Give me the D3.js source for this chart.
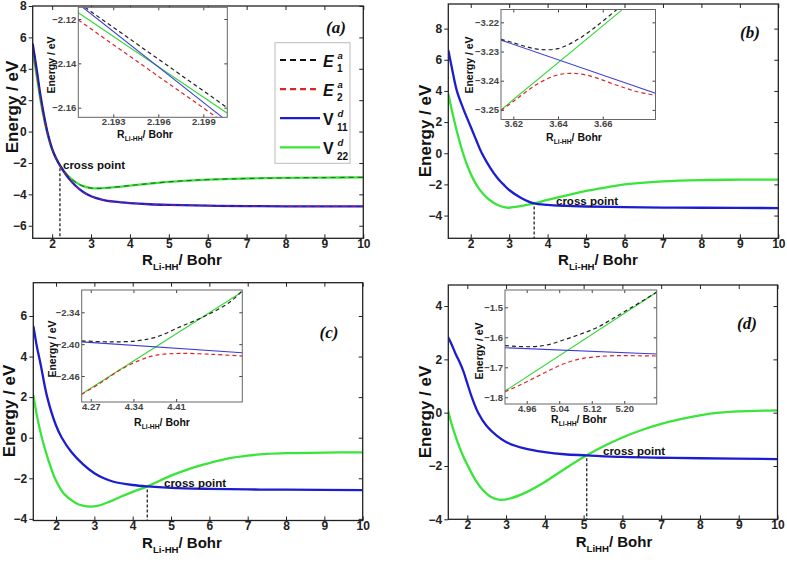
<!DOCTYPE html>
<html lang="en">
<head>
<meta charset="UTF-8">
<title>Li-HH diabatic and adiabatic potential curves</title>
<script src="https://d3js.org/d3.v7.min.js"></script>
<style>
  body { margin: 0; background: #fff; }
  svg { display: block; font-family: "Liberation Sans", Arial, sans-serif; }
</style>
</head>
<body>
<svg width="787" height="564"></svg>
<script>
// ---- data: [R / Bohr, energy / eV] ----
var xTicksMain = [2, 3, 4, 5, 6, 7, 8, 9, 10];

// panel (a)
var v11A = [[1.5,5.6],[1.6,4.0],[1.7,2.3],[1.8,0.9],[1.9,-0.25],[2.0,-1.1],[2.1,-1.7],[2.2,-2.15],[2.4,-2.9],[2.6,-3.45],[2.8,-3.85],[3.0,-4.12],[3.3,-4.35],[3.6,-4.47],[4.0,-4.56],[4.5,-4.63],[5.0,-4.67],[6.0,-4.72],[7.0,-4.75],[8.0,-4.76],[10.0,-4.77]];
var v22A = [[1.5,5.1],[1.6,3.6],[1.7,2.0],[1.8,0.7],[1.9,-0.35],[2.0,-1.15],[2.1,-1.7],[2.2,-2.15],[2.4,-2.8],[2.6,-3.22],[2.8,-3.48],[3.0,-3.6],[3.2,-3.62],[3.5,-3.57],[4.0,-3.44],[4.5,-3.31],[5.0,-3.2],[5.5,-3.12],[6.0,-3.06],[7.0,-2.99],[8.0,-2.95],[9.0,-2.93],[10.0,-2.92]];
var e1A = [[1.5,5.6],[1.6,4.0],[1.7,2.3],[1.8,0.9],[1.9,-0.25],[2.0,-1.1],[2.1,-1.7],[2.2,-2.13],[2.4,-2.8],[2.6,-3.22],[2.8,-3.48],[3.0,-3.6],[3.2,-3.62],[3.5,-3.57],[4.0,-3.44],[4.5,-3.31],[5.0,-3.2],[5.5,-3.12],[6.0,-3.06],[7.0,-2.99],[8.0,-2.95],[9.0,-2.93],[10.0,-2.92]];
var e2A = [[1.5,5.1],[1.6,3.6],[1.7,2.0],[1.8,0.7],[1.9,-0.35],[2.0,-1.15],[2.1,-1.7],[2.2,-2.16],[2.4,-2.9],[2.6,-3.45],[2.8,-3.85],[3.0,-4.12],[3.3,-4.35],[3.6,-4.47],[4.0,-4.56],[4.5,-4.63],[5.0,-4.67],[6.0,-4.72],[7.0,-4.75],[8.0,-4.76],[10.0,-4.77]];
var yTicksA = [-6, -4, -2, 0, 2, 4, 6, 8];

// panel (b)
var v11B = [[1.42,6.6],[1.5,5.6],[1.64,4.0],[1.8,2.9],[2.0,1.7],[2.15,0.8],[2.29,0.0],[2.5,-0.9],[2.7,-1.6],[2.85,-2.0],[3.0,-2.36],[3.3,-2.85],[3.65,-3.22],[4.0,-3.32],[4.5,-3.38],[5.0,-3.42],[6.0,-3.46],[7.0,-3.49],[8.0,-3.5],[10.0,-3.52]];
var v22B = [[1.42,3.8],[1.5,2.85],[1.6,1.8],[1.7,0.85],[1.8,0.0],[1.9,-0.72],[2.0,-1.32],[2.1,-1.82],[2.2,-2.22],[2.35,-2.68],[2.5,-3.02],[2.7,-3.32],[2.9,-3.48],[3.0,-3.5],[3.2,-3.43],[3.4,-3.34],[3.65,-3.22],[4.0,-3.0],[4.5,-2.7],[5.0,-2.42],[5.5,-2.2],[6.0,-2.0],[7.0,-1.8],[8.0,-1.72],[9.0,-1.7],[10.0,-1.69]];
var yTicksB = [-4, -2, 0, 2, 4, 6, 8];

// panel (c)
var v11C = [[1.41,5.5],[1.5,4.5],[1.6,3.6],[1.77,2.0],[2.0,0.6],[2.15,0.0],[2.4,-0.7],[2.7,-1.3],[3.0,-1.75],[3.25,-2.0],[3.5,-2.17],[4.0,-2.33],[4.38,-2.4],[5.0,-2.47],[6.0,-2.52],[7.0,-2.55],[8.0,-2.56],[10.0,-2.58]];
var v22C = [[1.41,2.1],[1.5,1.1],[1.63,0.0],[1.8,-1.1],[1.97,-2.0],[2.2,-2.75],[2.5,-3.2],[2.7,-3.35],[2.9,-3.4],[3.1,-3.35],[3.4,-3.15],[3.7,-2.9],[4.0,-2.67],[4.38,-2.4],[4.7,-2.12],[5.0,-1.87],[5.5,-1.52],[6.0,-1.25],[6.5,-1.02],[7.0,-0.88],[7.5,-0.8],[8.0,-0.76],[9.0,-0.73],[10.0,-0.72]];
var yTicksC = [-4, -2, 0, 2, 4, 6];

// panel (d)
var v11D = [[1.5,2.85],[1.6,2.55],[1.7,2.2],[1.8,1.9],[1.9,1.55],[2.0,1.1],[2.1,0.65],[2.28,0.0],[2.5,-0.5],[2.75,-0.85],[3.0,-1.1],[3.5,-1.35],[4.0,-1.48],[4.5,-1.56],[5.08,-1.6],[6.0,-1.66],[7.0,-1.69],[8.0,-1.71],[10.0,-1.74]];
var v22D = [[1.5,0.1],[1.6,-0.45],[1.7,-0.9],[1.8,-1.3],[1.9,-1.65],[2.0,-1.95],[2.2,-2.5],[2.4,-2.9],[2.6,-3.15],[2.85,-3.27],[3.1,-3.22],[3.5,-3.0],[4.0,-2.6],[4.5,-2.12],[5.08,-1.6],[5.5,-1.27],[6.0,-0.93],[6.5,-0.65],[7.0,-0.42],[7.5,-0.24],[8.0,-0.1],[8.5,0.0],[9.0,0.05],[10.0,0.09]];
var yTicksD = [-4, -2, 0, 2, 4];

// insets
var inE1A = [[2.19111,-2.11472],[2.20056,-2.15983]];
var inE2A = [[2.19067,-2.12045],[2.19989,-2.16434]];
var inV11A = [[2.19096,-2.11472],[2.20027,-2.16434]];
var inV22A = [[2.19067,-2.11716],[2.2006,-2.16253]];
var inXTicksA = [2.193, 2.196, 2.199];
var inYTicksA = [-2.16, -2.14, -2.12];

var inE1B = [[3.6145,-3.2258],[3.62,-3.227],[3.625,-3.2282],[3.63,-3.2291],[3.635,-3.2294],[3.64,-3.229],[3.645,-3.2275],[3.65,-3.2253],[3.655,-3.2226],[3.66,-3.2196],[3.6663,-3.2156]];
var inE2B = [[3.6145,-3.2502],[3.62,-3.2471],[3.625,-3.2442],[3.63,-3.2415],[3.635,-3.2394],[3.64,-3.238],[3.645,-3.2375],[3.65,-3.2377],[3.655,-3.2385],[3.66,-3.2398],[3.665,-3.2412],[3.67,-3.2425],[3.675,-3.2437],[3.6836,-3.245]];
var inV11B = [[3.6145,-3.2261],[3.6836,-3.2443]];
var inV22B = [[3.6145,-3.25],[3.6685,-3.2158]];
var inXTicksB = [3.62, 3.64, 3.66];
var inYTicksB = [-3.25, -3.24, -3.23, -3.22];

var inE1C = [[4.2552,-2.3938],[4.3016,-2.3957],[4.3454,-2.3938],[4.3782,-2.3863],[4.4165,-2.3675],[4.4601,-2.3456],[4.4984,-2.3206],[4.5185,-2.299]];
var inE2C = [[4.2552,-2.4945],[4.2852,-2.4737],[4.318,-2.4488],[4.3508,-2.43],[4.3777,-2.4206],[4.4165,-2.4175],[4.4709,-2.4193],[4.5185,-2.4225]];
var inV11C = [[4.2552,-2.3957],[4.5185,-2.4163]];
var inV22C = [[4.2552,-2.4938],[4.5185,-2.3013]];
var inXTicksC = [4.27, 4.34, 4.41];
var inYTicksC = [-2.46, -2.40, -2.34];

var inE1D = [[4.9066,-1.628],[4.9682,-1.6313],[5.0092,-1.6257],[5.0502,-1.609],[5.0911,-1.59],[5.1323,-1.568],[5.1731,-1.5367],[5.2143,-1.5033],[5.2554,-1.47],[5.2798,-1.449]];
var inE2D = [[4.9066,-1.781],[4.9435,-1.759],[4.9847,-1.7313],[5.0174,-1.709],[5.0502,-1.689],[5.0911,-1.6723],[5.1323,-1.6647],[5.1731,-1.6613],[5.2143,-1.6613],[5.2798,-1.6623]];
var inV11D = [[4.9066,-1.6347],[5.2798,-1.6557]];
var inV22D = [[4.9066,-1.779],[5.2798,-1.45]];
var inXTicksD = [4.96, 5.04, 5.12, 5.20];
var inYTicksD = [-1.8, -1.7, -1.6, -1.5];

// ---- drawing ----
var svg = d3.select("svg");
var BLUE = "#1c1cd0", GREEN = "#3ae43a", IBLUE = "#3c3cd6", IGREEN = "#33d833";
var clipId = 0;

function curves(g, x, y, list) {
    var id = "clip" + (clipId++);
    g.append("clipPath").attr("id", id).append("rect")
        .attr("x", x.range()[0]).attr("y", y.range()[1])
        .attr("width", x.range()[1] - x.range()[0]).attr("height", y.range()[0] - y.range()[1]);
    var line = d3.line().x(function(d) { return x(d[0]); }).y(function(d) { return y(d[1]); })
        .curve(d3.curveCatmullRom.alpha(0.5));
    var cg = g.append("g").attr("clip-path", "url(#" + id + ")");
    list.forEach(function(s) {
        cg.append("path").datum(s.data).attr("d", line)
            .attr("fill", "none").attr("stroke", s.color).attr("stroke-width", s.width)
            .attr("stroke-dasharray", s.dash || null).attr("opacity", s.opacity || 1);
    });
}

function axes(g, x, y, xt, yt, o) {
    var x0 = x.range()[0], x1 = x.range()[1], y0 = y.range()[1], y1 = y.range()[0];
    var tin = o.inset ? -3 : -4;
    var b = g.append("g").attr("transform", "translate(0," + y1 + ")")
        .call(d3.axisBottom(x).tickValues(xt).tickSizeInner(tin).tickSizeOuter(0)
        .tickPadding(o.padB).tickFormat(o.fx));
    var l = g.append("g").attr("transform", "translate(" + x0 + ",0)")
        .call(d3.axisLeft(y).tickValues(yt).tickSizeInner(o.inset ? -3 : 4).tickSizeOuter(0)
        .tickPadding(o.padL).tickFormat(o.fy));
    var t = g.append("g").attr("transform", "translate(0," + y0 + ")")
        .call(d3.axisTop(x).tickValues(xt).tickSizeInner(tin).tickSizeOuter(0).tickFormat(""));
    var r = g.append("g").attr("transform", "translate(" + x1 + ",0)")
        .call(d3.axisRight(y).tickValues(yt).tickSizeInner(tin).tickSizeOuter(0).tickFormat(""));
    [b, l, t, r].forEach(function(a) {
        a.select(".domain").remove();
        a.attr("font-family", null).attr("font-size", o.fs).attr("font-weight", "bold")
            .attr("color", o.tickColor);
    });
    g.append("rect").attr("x", x0).attr("y", y0).attr("width", x1 - x0).attr("height", y1 - y0)
        .attr("fill", "none").attr("stroke", o.frame).attr("stroke-width", o.inset ? 1 : 1.3);
}

function xTitle(cx, by, fs, sub) {
    var t = svg.append("text").attr("x", cx).attr("y", by).attr("text-anchor", "middle")
        .attr("font-weight", "bold").attr("font-size", fs).attr("fill", "#111");
    t.append("tspan").text("R");
    t.append("tspan").attr("font-size", fs * 0.64).attr("dy", fs * 0.3).text(sub);
    t.append("tspan").attr("dy", -fs * 0.3).text("/ Bohr");
}

function yTitle(bx, cy, fs) {
    svg.append("text").attr("transform", "translate(" + bx + "," + cy + ") rotate(-90)")
        .attr("text-anchor", "middle").attr("font-weight", "bold").attr("font-size", fs)
        .attr("fill", "#111").text("Energy / eV");
}

function panel(p) {
    var g = svg.append("g");
    var x = d3.scaleLinear().domain(p.xd).range([p.box[0], p.box[1]]);
    var y = d3.scaleLinear().domain(p.yd).range([p.box[3], p.box[2]]);
    var list = [
        {data: p.v22, color: GREEN, width: 2.3},
        {data: p.v11, color: BLUE, width: 2.3}
    ];
    if (p.e1) {
        list.push({data: p.e1, color: "#222", width: 1.2, dash: "5,4", opacity: 0.6});
        list.push({data: p.e2, color: "#d22", width: 1.2, dash: "5,4", opacity: 0.6});
    }
    curves(g, x, y, list);
    // cross point marker
    g.append("line").attr("x1", x(p.cross[0])).attr("x2", x(p.cross[0]))
        .attr("y1", y(p.cross[1]) + 3).attr("y2", p.box[3])
        .attr("stroke", "#222").attr("stroke-width", 1.3).attr("stroke-dasharray", "3,2");
    g.append("text").attr("x", p.crossText[0]).attr("y", p.crossText[1])
        .attr("font-size", 11.5).attr("font-weight", "bold").attr("fill", "#111").text("cross point");
    axes(g, x, y, xTicksMain, p.yt, {fs: 12, padB: 1, padL: 2, frame: "#222", tickColor: "#222",
        fx: d3.format("d"), fy: d3.format("d")});
    yTitle(p.yTitle[0], p.yTitle[1], 17);
    xTitle(p.xTitle[0], p.xTitle[1], 15, p.xsub);
    svg.append("text").attr("x", p.tag[0]).attr("y", p.tag[1]).attr("text-anchor", "middle")
        .attr("font-family", "Liberation Serif, Times New Roman, serif").attr("font-weight", "bold")
        .attr("font-style", "italic").attr("font-size", 17).attr("fill", "#111").text(p.tagText);
}

function inset(p) {
    var g = svg.append("g");
    var x = d3.scaleLinear().domain(p.xd).range([p.box[0], p.box[1]]);
    var y = d3.scaleLinear().domain(p.yd).range([p.box[3], p.box[2]]);
    g.append("rect").attr("x", p.box[0]).attr("y", p.box[2])
        .attr("width", p.box[1] - p.box[0]).attr("height", p.box[3] - p.box[2]).attr("fill", "#fff");
    curves(g, x, y, [
        {data: p.v22, color: IGREEN, width: 1.1},
        {data: p.v11, color: IBLUE, width: 1.1},
        {data: p.e1, color: "#222", width: 1.2, dash: "4,3"},
        {data: p.e2, color: "#e02424", width: 1.2, dash: "4,3"}
    ]);
    axes(g, x, y, p.xt, p.yt, {inset: true, fs: 9.5, padB: 1, padL: 2, frame: "#666", tickColor: "#444",
        fx: d3.format(p.fx), fy: d3.format(p.fy)});
    yTitle(p.yTitle[0], p.yTitle[1], 10.5);
    xTitle(p.xTitle[0], p.xTitle[1], 10.5, "Li-HH");
}

panel({box: [32.7, 363.3, 6, 238.3], xd: [1.5, 10], yd: [-6.8, 8], yt: yTicksA,
    v11: v11A, v22: v22A, e1: e1A, e2: e2A, cross: [2.2, -2.15], crossText: [63, 169],
    yTitle: [18, 107], xTitle: [182, 265], xsub: "Li-HH", tag: [336, 33], tagText: "(a)"});
panel({box: [448.3, 778.3, 4, 238.3], xd: [1.417, 10], yd: [-5.46, 9.58], yt: yTicksB,
    v11: v11B, v22: v22B, cross: [3.65, -3.22], crossText: [556, 205],
    yTitle: [431, 131], xTitle: [598, 265], xsub: "Li-HH", tag: [750, 38], tagText: "(b)"});
panel({box: [33.3, 362.7, 282.7, 520.5], xd: [1.407, 10], yd: [-4.08, 7.64], yt: yTicksC,
    v11: v11C, v22: v22C, cross: [4.38, -2.4], crossText: [164, 487],
    yTitle: [15, 411], xTitle: [182, 548], xsub: "Li-HH", tag: [329, 338], tagText: "(c)"});
panel({box: [448.3, 777.5, 285, 519.3], xd: [1.51, 10], yd: [-4, 4.79], yt: yTicksD,
    v11: v11D, v22: v22D, cross: [5.08, -1.6], crossText: [603, 455],
    yTitle: [431, 412], xTitle: [614, 547], xsub: "LiHH", tag: [747, 329], tagText: "(d)"});

inset({box: [78.3, 227.3, 7.3, 117.3], xd: [2.19067, 2.2006], yd: [-2.16433, -2.11472],
    xt: inXTicksA, yt: inYTicksA, fx: ".3f", fy: ".2f",
    e1: inE1A, e2: inE2A, v11: inV11A, v22: inV22A, yTitle: [55, 65], xTitle: [145, 138]});
inset({box: [501, 655.5, 9.5, 119.5], xd: [3.6145, 3.6836], yd: [-3.2533, -3.2156],
    xt: inXTicksB, yt: inYTicksB, fx: ".2f", fy: ".2f",
    e1: inE1B, e2: inE2B, v11: inV11B, v22: inV22B, yTitle: [473, 65], xTitle: [574, 141]});
inset({box: [81.7, 242.3, 290, 402], xd: [4.2552, 4.5185], yd: [-2.509, -2.298],
    xt: inXTicksC, yt: inYTicksC, fx: ".2f", fy: ".2f",
    e1: inE1C, e2: inE2C, v11: inV11C, v22: inV22C, yTitle: [56, 349], xTitle: [162, 426]});
inset({box: [505, 656.7, 290, 404], xd: [4.9066, 5.2798], yd: [-1.8223, -1.4423],
    xt: inXTicksD, yt: inYTicksD, fx: ".2f", fy: ".1f",
    e1: inE1D, e2: inE2D, v11: inV11D, v22: inV22D, yTitle: [483, 351], xTitle: [579, 423]});

// legend of panel (a)
var legendKeys = [
    {sym: "E", sup: "a", sub: "1", color: "#111", dash: "6,4", italic: true},
    {sym: "E", sup: "a", sub: "2", color: "#e02424", dash: "6,4", italic: true},
    {sym: "V", sup: "d", sub: "11", color: BLUE, dash: null, italic: false},
    {sym: "V", sup: "d", sub: "22", color: GREEN, dash: null, italic: false}
];
var lg = svg.append("g");
lg.append("rect").attr("x", 275).attr("y", 42.7).attr("width", 75).attr("height", 120.6)
    .attr("fill", "#fff").attr("stroke", "#bbb").attr("stroke-width", 1);
legendKeys.forEach(function(k, i) {
    var ly = 60 + i * 29.1;
    lg.append("line").attr("x1", 280).attr("x2", 320).attr("y1", ly).attr("y2", ly)
        .attr("stroke", k.color).attr("stroke-width", 2.2).attr("stroke-dasharray", k.dash);
    lg.append("text").attr("x", 323).attr("y", ly + 6.7).attr("font-size", 16).attr("font-weight", "bold")
        .attr("font-style", k.italic ? "italic" : null).attr("fill", "#111").text(k.sym);
    lg.append("text").attr("x", 337.5).attr("y", ly - 1).attr("font-size", 9.5).attr("font-weight", "bold")
        .attr("font-style", "italic").attr("fill", "#111").text(k.sup);
    lg.append("text").attr("x", 337).attr("y", ly + 12.3).attr("font-size", 10).attr("font-weight", "bold")
        .attr("fill", "#111").text(k.sub);
});
</script>
</body>
</html>
